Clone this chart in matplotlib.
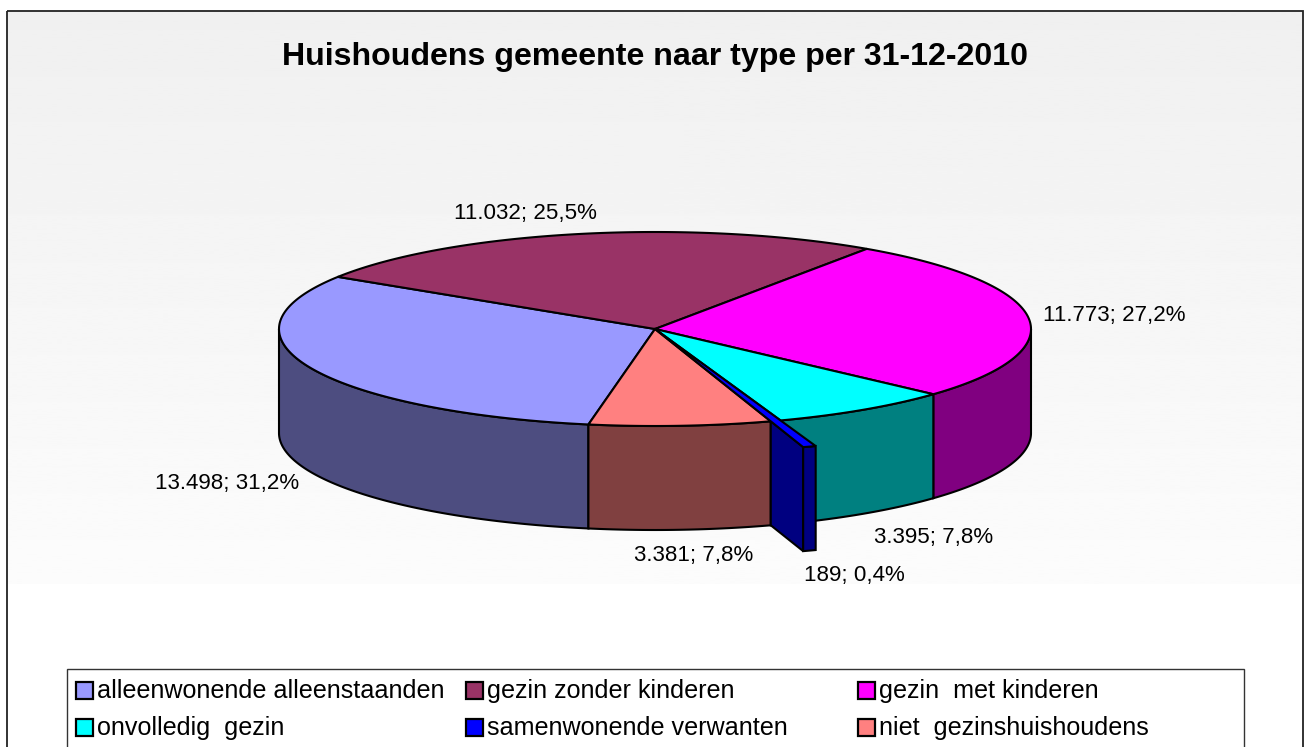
import numpy as np
import matplotlib
matplotlib.use('Agg')
import matplotlib.pyplot as plt
from matplotlib.patches import Polygon, Rectangle

plt.rcParams['font.family'] = ['Liberation Sans', 'DejaVu Sans']

title = 'Huishoudens gemeente naar type per 31-12-2010'
categories = ['alleenwonende alleenstaanden', 'gezin zonder kinderen', 'gezin  met kinderen',
              'onvolledig  gezin', 'samenwonende verwanten', 'niet  gezinshuishoudens']
values = [13498, 11032, 11773, 3395, 189, 3381]
top_colors = ['#9999ff', '#993366', '#ff00ff', '#00ffff', '#0000ff', '#ff8080']
side_colors = ['#4d4d80', '#4d1a33', '#800080', '#008080', '#000080', '#804040']

# pie geometry, in pixels of the picture
cx, cy = 655, 329
rx, ry = 376, 97
depth = 104
start_angle = 259.8
explode = 1.28
exploded_idx = 4
lw = 1.5

label_pos = [(155, 484), (454, 213), (1043, 316), (874, 537), (804, 575), (634, 555)]


def arc(a1, a2, k=1.0):
    t = np.radians(np.linspace(a1, a2, 120))
    return np.column_stack([cx + k * rx * np.cos(t), cy - k * ry * np.sin(t)])


def down(pts):
    return pts + np.array([0, depth])


fig = plt.figure(figsize=(13.06, 7.47), dpi=100)
ax = fig.add_axes([0, 0, 1, 1])

# background gradient of the plot area
grad = np.linspace(0.94, 0.988, 256).reshape(-1, 1)
ax.imshow(grad, cmap='gray', vmin=0, vmax=1, extent=[7, 1302, 584, 11], aspect='auto', zorder=0)
ax.set_xlim(0, 1306)
ax.set_ylim(747, 0)
ax.axis('off')

ax.add_patch(Rectangle((6.5, 11), 1296, 760, fill=False, ec='#222222', lw=1.3, zorder=1))

total = sum(values)
sweeps = [v / total * 360 for v in values]
ends = start_angle - np.cumsum(sweeps)
starts = np.concatenate([[start_angle], ends[:-1]])

# outer side of the pie, only the front half can be seen
for i in range(len(values)):
    if i == exploded_idx:
        continue
    a1, a2 = starts[i], ends[i]
    if i == exploded_idx - 1:
        a2 = ends[exploded_idx]
    if a1 > 180:
        a2 = max(a2, 180)
    else:
        a1 = min(a1, 0)
        a2 = max(a2, -180)
    if a1 <= a2:
        continue
    pts = arc(a1, a2)
    ax.add_patch(Polygon(np.vstack([pts, down(pts)[::-1]]), fc=side_colors[i], ec='black', lw=lw, zorder=2))

# top faces
for i in range(len(values)):
    if i == exploded_idx:
        continue
    pts = np.vstack([[[cx, cy]], arc(starts[i], ends[i])])
    ax.add_patch(Polygon(pts, fc=top_colors[i], ec='black', lw=lw, zorder=3))

# the pulled out slice
a1, a2 = starts[exploded_idx], ends[exploded_idx]
inner = arc(a2, a2, 1.0)[0]
outer = arc(a2, a2, explode)[0]
cut = np.array([inner, outer])
ax.add_patch(Polygon(np.vstack([cut, down(cut)[::-1]]), fc=side_colors[exploded_idx], ec='black', lw=lw, zorder=4))
rim = arc(a1, a2, explode)
ax.add_patch(Polygon(np.vstack([rim, down(rim)[::-1]]), fc=side_colors[exploded_idx], ec='black', lw=lw, zorder=4))
ax.add_patch(Polygon(np.vstack([[[cx, cy]], rim]), fc=top_colors[exploded_idx], ec='black', lw=lw, zorder=5))

ax.text(655, 57, title, fontsize=23.1, fontweight='bold', ha='center', va='center', zorder=6)

for v, (x, y) in zip(values, label_pos):
    pct = f'{v / total * 100:.1f}'.replace('.', ',')
    txt = f'{v:,}'.replace(',', '.') + '; ' + pct + '%'
    ax.text(x, y, txt, fontsize=16.1, ha='left', va='center', zorder=6)

# legend
ax.add_patch(Rectangle((66.5, 669), 1177.5, 100, fc='white', ec='#333333', lw=1.0, zorder=1))
col_x = [76, 466, 858]
row_y = [691, 728]
for i, name in enumerate(categories):
    x = col_x[i % 3]
    y = row_y[i // 3]
    ax.add_patch(Rectangle((x, y - 9), 17, 17, fc=top_colors[i], ec='black', lw=1.6, zorder=2))
    ax.text(x + 21, y, name, fontsize=18.1, ha='left', va='center', zorder=6)

fig.savefig('out.png', dpi=100)
